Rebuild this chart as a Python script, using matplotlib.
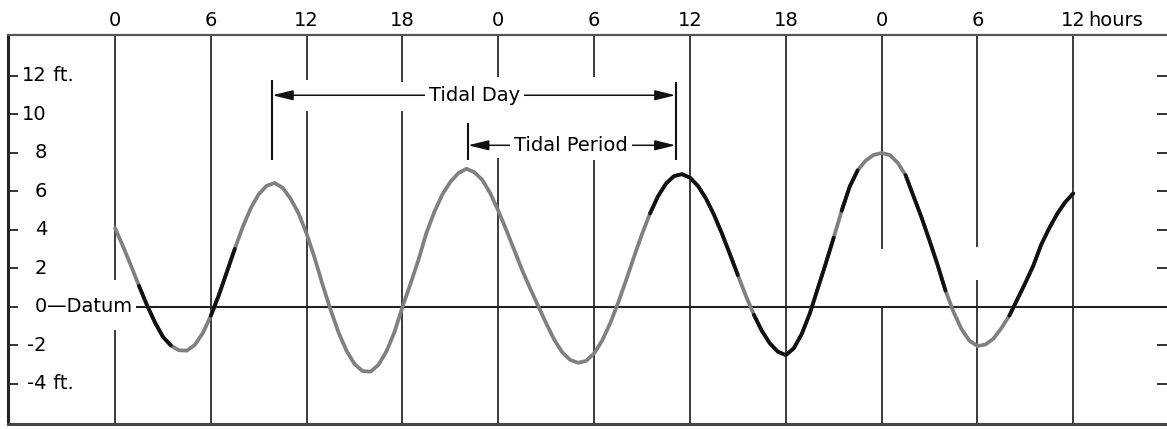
import numpy as np
import matplotlib
matplotlib.use("Agg")
import matplotlib.pyplot as plt

# water level, every half hour from 0 to 60 h
hours = np.arange(0, 60.5, 0.5)
level = [4.1, 3.15, 2.15, 1.1, 0.1, -0.8, -1.55, -2.0, -2.25, -2.27,
         -1.97, -1.35, -0.46, 0.61, 1.81, 3.02, 4.16, 5.13, 5.86, 6.3,
         6.44, 6.19, 5.62, 4.85, 3.8, 2.55, 1.15, -0.15, -1.33, -2.28,
         -2.97, -3.33, -3.36, -3.0, -2.3, -1.3, 0.0, 1.2, 2.45, 3.85,
         4.95, 5.85, 6.5, 6.95, 7.18, 7.0, 6.6, 5.9, 5.0, 4.0,
         2.95, 1.9, 0.95, 0.05, -0.85, -1.7, -2.35, -2.75, -2.9, -2.8,
         -2.41, -1.75, -0.86, 0.21, 1.39, 2.61, 3.79, 4.86, 5.75, 6.41,
         6.8, 6.9, 6.72, 6.29, 5.64, 4.8, 3.82, 2.75, 1.65, 0.58,
         -0.4, -1.24, -1.89, -2.32, -2.5, -2.15, -1.4, -0.35, 0.95, 2.25,
         3.6, 5.0, 6.25, 7.1, 7.6, 7.9, 8.0, 7.9, 7.5, 6.85,
         5.75, 4.65, 3.45, 2.2, 0.85, -0.25, -1.15, -1.75, -2.03, -1.95,
         -1.65, -1.1, -0.45, 0.4, 1.25, 2.15, 3.25, 4.1, 4.85, 5.45,
         5.9]

# parts of the printed curve that came out black instead of grey
black_spans = [(1.5, 3.5), (6.0, 7.5), (33.5, 39.0), (40.0, 45.0),
               (45.5, 46.5), (49.5, 52.0), (56.0, 60.0)]

hour_lines = [0, 6, 12, 18, 24, 30, 36, 42, 48, 54, 60]
hour_labels = ["0", "6", "12", "18", "0", "6", "12", "18", "0", "6", "12"]

ft_ticks = [12, 10, 8, 6, 4, 2, 0, -2, -4]
ft_labels = ["12", "10", "8", "6", "4", "2", "0", "-2", "-4"]
ft_suffix = {12: " ft.", 0: "\u2014Datum", -4: " ft."}

# breaks in the printed vertical rules (ft from, ft to)
gaps = {0: (1.4, -1.2), 12: (11.8, 10.2), 18: (11.7, 10.2),
        24: (11.95, 7.75), 30: (11.95, 7.65), 48: (3.0, 0.0), 54: (3.1, 1.4)}

tidal_day = (9.85, 35.1)
tidal_period = (22.1, 35.1)

plt.rcParams["font.family"] = ["DejaVu Sans"]
fs = 14

fig = plt.figure(figsize=(11.67, 4.29), dpi=100)
ax = fig.add_axes([8 / 1167, 5 / 429, 1159 / 1167, 389 / 429])
ax.set_xlim(-6.70, 65.87)
ax.set_ylim(-6.08, 14.13)
y0, y1 = ax.get_ylim()

# vertical hour rules
for h in hour_lines:
    if h in gaps:
        top, bot = gaps[h]
        ax.vlines(h, top, y1, color="#1a1a1a", lw=1.2, zorder=1)
        ax.vlines(h, y0, bot, color="#1a1a1a", lw=1.2, zorder=1)
    else:
        ax.vlines(h, y0, y1, color="#1a1a1a", lw=1.2, zorder=1)

# datum line
ax.hlines(0, 1.3, 66, color="#222222", lw=1.5, zorder=1)

# tide curve
lv = np.array(level)
ax.plot(hours, lv, color="#808080", lw=2.7, zorder=3,
        solid_capstyle="round", solid_joinstyle="round")
for a, b in black_spans:
    m = (hours >= a) & (hours <= b)
    ax.plot(hours[m], lv[m], color="#111111", lw=2.7, zorder=4,
            solid_capstyle="round", solid_joinstyle="round")

# tidal day / period markers
ax.vlines(tidal_day[0], 7.64, 11.8, color="#111111", lw=1.5, zorder=2)
ax.vlines(tidal_day[1], 7.64, 11.7, color="#111111", lw=1.5, zorder=2)
ax.vlines(tidal_period[0], 7.64, 9.56, color="#111111", lw=1.5, zorder=2)

arrow = dict(arrowstyle="<|-|>,head_length=0.9,head_width=0.22",
             color="#111111", lw=1.1, shrinkA=0, shrinkB=0,
             mutation_scale=14)
ax.annotate("", xy=(tidal_day[0], 11.0), xytext=(tidal_day[1], 11.0),
            arrowprops=arrow, zorder=2)
ax.annotate("", xy=(tidal_period[0], 8.4), xytext=(tidal_period[1], 8.4),
            arrowprops=arrow, zorder=2)
box = dict(facecolor="white", edgecolor="none", pad=3)
ax.text(22.5, 11.0, "Tidal Day", ha="center", va="center", fontsize=fs,
        bbox=box, zorder=5)
ax.text(28.55, 8.4, "Tidal Period", ha="center", va="center", fontsize=fs,
        bbox=box, zorder=5)

# hour labels along the top
for h, lab in zip(hour_lines, hour_labels):
    ax.text(h, 14.9, lab, ha="center", va="center", fontsize=fs,
            clip_on=False)
ax.text(60.95, 14.9, "hours", ha="left", va="center", fontsize=fs,
        clip_on=False)

# feet labels inside the frame
for v, lab in zip(ft_ticks, ft_labels):
    ax.text(-4.26, v, lab, ha="right", va="center", fontsize=fs, zorder=5)
    if v in ft_suffix:
        ax.text(-4.26, v, ft_suffix[v], ha="left", va="center", fontsize=fs,
                zorder=5)

ax.set_xticks([])
ax.set_yticks(ft_ticks)
ax.tick_params(axis="y", left=True, right=True, direction="in", length=7.2,
               width=1.3, color="#222222", labelleft=False)

ax.spines["right"].set_visible(False)
ax.spines["left"].set_color("#222222")
ax.spines["left"].set_linewidth(2.2)
ax.spines["top"].set_color("#555555")
ax.spines["top"].set_linewidth(1.6)
ax.spines["bottom"].set_color("#444444")
ax.spines["bottom"].set_linewidth(2.2)

fig.savefig("out.png", dpi=100)
